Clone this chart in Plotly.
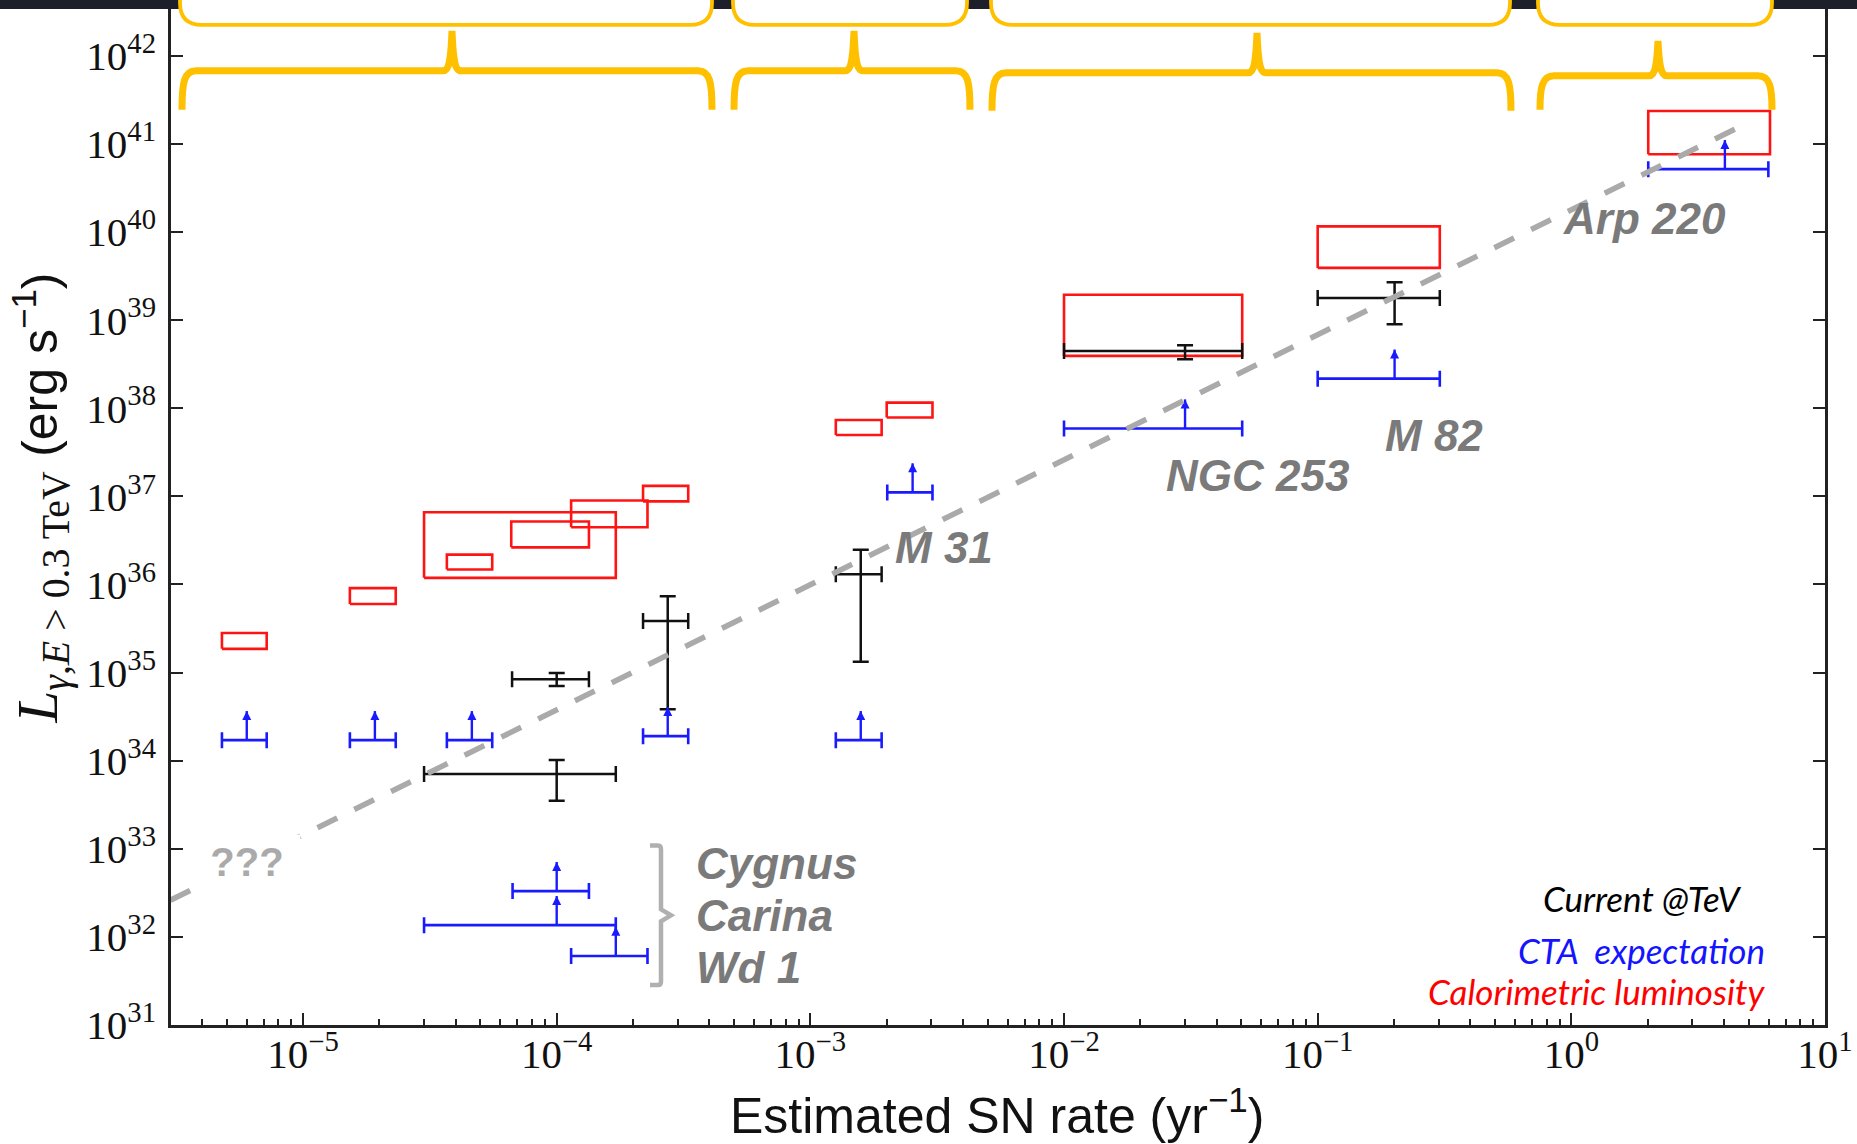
import math
import plotly.graph_objects as go

# ---------------- data ----------------
# Calorimetric luminosity boxes (red): rate range x0..x1, luminosity range y0..y1
cal_x0 = [4.79e-6, 1.53e-5, 3.0e-5, 3.69e-5, 6.62e-5, 1.14e-4, 2.19e-4, 1.26e-3, 2.0e-3, 1.0e-2, 0.1, 2.01]
cal_x1 = [7.19e-6, 2.32e-5, 1.71e-4, 5.57e-5, 1.34e-4, 2.28e-4, 3.30e-4, 1.91e-3, 3.03e-3, 5.04e-2, 0.303, 6.07]
cal_y0 = [1.86e35, 6.0e35, 1.19e36, 1.48e36, 2.64e36, 4.47e36, 8.77e36, 4.97e37, 7.87e37, 3.93e38, 3.92e39, 7.64e40]
cal_y1 = [2.81e35, 9.1e35, 6.6e36, 2.18e36, 5.19e36, 8.97e36, 1.315e37, 7.35e37, 1.16e38, 1.94e39, 1.16e40, 2.37e41]

# Current @TeV measurements (black)
cur_x = [1.0e-4, 2.74e-4, 1.0e-4, 1.58e-3, 3.0e-2, 0.201]
cur_x_lo = [6.67e-5, 2.19e-4, 3.0e-5, 1.26e-3, 1.0e-2, 0.1]
cur_x_hi = [1.34e-4, 3.30e-4, 1.71e-4, 1.91e-3, 5.04e-2, 0.303]
cur_y = [8.4e34, 3.84e35, 7.06e33, 1.31e36, 4.48e38, 1.79e39]
cur_y_lo = [7.05e34, 3.84e34, 3.52e33, 1.33e35, 3.61e38, 8.97e38]
cur_y_hi = [9.89e34, 7.35e35, 1.02e34, 2.48e36, 5.19e38, 2.70e39]

# CTA expectation (blue lower limits)
cta_x = [6.0e-6, 1.92e-5, 4.63e-5, 2.74e-4, 1.58e-3, 2.53e-3, 3.0e-2, 0.201, 4.03, 1.0e-4, 1.0e-4, 1.71e-4]
cta_x_lo = [4.79e-6, 1.53e-5, 3.69e-5, 2.19e-4, 1.26e-3, 2.01e-3, 1.0e-2, 0.1, 2.01, 6.70e-5, 3.0e-5, 1.14e-4]
cta_x_hi = [7.19e-6, 2.32e-5, 5.57e-5, 3.30e-4, 1.91e-3, 3.03e-3, 5.04e-2, 0.303, 5.98, 1.34e-4, 1.71e-4, 2.28e-4]
cta_y = [1.71e34, 1.71e34, 1.71e34, 1.90e34, 1.71e34, 1.11e37, 5.90e37, 2.17e38, 5.18e40, 3.31e32, 1.36e32, 6.08e31]

# trend line
trend_x = [3.0e-6, 4.8]
trend_y = [2.61e32, 1.66e41]

# source labels: text, rate, luminosity
src_text = ["M 31", "NGC 253", "M 82", "Arp 220", "Cygnus", "Carina", "Wd 1"]
src_x = [2.11e-3, 2.48e-2, 0.181, 0.914, 3.48e-4, 3.48e-4, 3.48e-4]
src_y = [2.63e36, 1.72e37, 4.89e37, 1.43e40, 6.81e32, 1.76e32, 4.48e31]

y_tick_exp = list(range(31, 43))
x_tick_exp = list(range(-5, 2))

# ---------------- geometry helpers ----------------
W, H = 1857, 1144
ML, MR, MT, MB = 171, 32, 0, 119
PW = W - ML - MR
PH = H - MT - MB


def px(xp):
    return (xp - ML) / PW


def py(yp):
    return (PH + MT - yp) / PH


def P(xp, yp):
    return f"{px(xp):.5f},{py(yp):.5f}"


fig = go.Figure()

# red boxes
bx, by = [], []
for x0, x1, y0, y1 in zip(cal_x0, cal_x1, cal_y0, cal_y1):
    bx += [x0, x1, x1, x0, x0, None]
    by += [y0, y0, y1, y1, y0, None]
fig.add_trace(go.Scatter(x=bx, y=by, mode="lines", line=dict(color="#ff1414", width=2.6),
                         hoverinfo="skip", showlegend=False))

# black measurements
fig.add_trace(go.Scatter(
    x=cur_x, y=cur_y, mode="markers", marker=dict(size=1, color="rgba(0,0,0,0)"),
    error_x=dict(type="data", symmetric=False,
                 array=[h - v for h, v in zip(cur_x_hi, cur_x)],
                 arrayminus=[v - l for l, v in zip(cur_x_lo, cur_x)],
                 color="#111111", thickness=2.5, width=8),
    error_y=dict(type="data", symmetric=False,
                 array=[h - v for h, v in zip(cur_y_hi, cur_y)],
                 arrayminus=[v - l for l, v in zip(cur_y_lo, cur_y)],
                 color="#111111", thickness=2.5, width=8),
    hoverinfo="skip", showlegend=False))

# blue CTA lower limits: horizontal bar + upward arrow shaft
ARROW_DEX = 0.33
cta_top = [v * 10 ** ARROW_DEX for v in cta_y]
fig.add_trace(go.Scatter(
    x=cta_x, y=cta_y, mode="markers", marker=dict(size=1, color="rgba(0,0,0,0)"),
    error_x=dict(type="data", symmetric=False,
                 array=[h - v for h, v in zip(cta_x_hi, cta_x)],
                 arrayminus=[v - l for l, v in zip(cta_x_lo, cta_x)],
                 color="#1a1aff", thickness=2.6, width=8),
    error_y=dict(type="data", symmetric=False,
                 array=[t - v for t, v in zip(cta_top, cta_y)],
                 arrayminus=[0] * len(cta_y),
                 color="#1a1aff", thickness=2.4, width=0),
    hoverinfo="skip", showlegend=False))
# arrow heads
fig.add_trace(go.Scatter(
    x=cta_x, y=cta_top, mode="markers",
    marker=dict(symbol="arrow-up", size=9, color="#1a1aff", line=dict(width=0)),
    hoverinfo="skip", showlegend=False))

# dashed trend line
fig.add_trace(go.Scatter(x=trend_x, y=trend_y, mode="lines",
                         line=dict(color="#aaaaaa", width=5.5, dash="22px,19px"),
                         hoverinfo="skip", showlegend=False))

annotations = []

# source labels
for t, xv, yv in zip(src_text, src_x, src_y):
    annotations.append(dict(
        x=math.log10(xv), y=math.log10(yv), xref="x", yref="y", text=f"<b><i>{t}</i></b>",
        showarrow=False, xanchor="left", yanchor="middle",
        font=dict(family="Liberation Sans, Arial, sans-serif", size=44, color="#7a7a7a")))

# ??? with white box that interrupts the trend line
annotations.append(dict(
    x=px(246.5), y=py(862), xref="paper", yref="paper", text="<b>???</b>",
    showarrow=False, xanchor="center", yanchor="middle", bgcolor="white",
    width=104, height=52,
    font=dict(family="Liberation Sans Narrow, Liberation Sans, sans-serif", size=40, color="#aaaaaa")))

# legend-like texts
leg_font = "Lato, Open Sans, sans-serif"
annotations += [
    dict(x=px(1642), y=py(898), xref="paper", yref="paper", text="<i>Current @TeV</i>",
         showarrow=False, xanchor="center", yanchor="middle",
         font=dict(family=leg_font, size=35, color="#000000")),
    dict(x=px(1641.5), y=py(950), xref="paper", yref="paper", text="<i>CTA\u00a0 expectation</i>",
         showarrow=False, xanchor="center", yanchor="middle",
         font=dict(family=leg_font, size=35, color="#1414ff")),
    dict(x=px(1767), y=py(991), xref="paper", yref="paper", text="<i>Calorimetric luminosity</i>",
         showarrow=False, xanchor="right", yanchor="middle",
         font=dict(family=leg_font, size=35, color="#ff0000")),
]

# axis titles
annotations.append(dict(
    x=px(997), y=py(1112), xref="paper", yref="paper",
    text="Estimated SN rate (yr<sup>\u22121</sup>)", showarrow=False,
    xanchor="center", yanchor="middle",
    font=dict(family="Liberation Sans, Arial, sans-serif", size=50, color="#111111")))
annotations.append(dict(
    x=px(41), y=py(497), xref="paper", yref="paper", textangle=-90,
    text=("<i>L</i><sub><i>\u03b3</i>,<i>E</i> &gt; 0.3 TeV</sub> "
          "<span style=\"font-family:Liberation Sans;font-size:50px\">(erg s<sup>\u22121</sup>)</span>"),
    showarrow=False, xanchor="center", yanchor="middle",
    font=dict(family="Liberation Serif, serif", size=57, color="#111111")))

# ---------------- decorative shapes ----------------
shapes = []
YEL = "#FFC000"
# dark header band
shapes.append(dict(type="rect", xref="paper", yref="paper", x0=px(-5), x1=px(W + 5), y0=py(6), y1=py(-5),
                   fillcolor="#1d202b", line=dict(width=0), layer="above"))
# upper rounded callout boxes
for xl, xr in [(180, 712), (733, 967), (991, 1510), (1538, 1772)]:
    yb, r = 22, 22
    path = (f"M{P(xl, -30)} L{P(xl, 0)} Q{P(xl, yb)} {P(xl + r, yb)} L{P(xr - r, yb)} "
            f"Q{P(xr, yb)} {P(xr, 0)} L{P(xr, -30)} Z")
    shapes.append(dict(type="path", xref="paper", yref="paper", path=path, fillcolor="white",
                       line=dict(color=YEL, width=3.8), layer="above"))
# curly braces
for xl, xr, xc, yh, yt, ye in [(182, 712, 452, 68, 28, 107), (734, 970, 854, 68, 28, 107),
                               (992, 1511, 1257, 70, 30, 108), (1540, 1772, 1658, 73, 38, 107)]:
    path = (f"M{P(xl, ye)} C{P(xl, yh + 12)} {P(xl + 2, yh)} {P(xl + 14, yh)} "
            f"L{P(xc - 9, yh)} C{P(xc - 2, yh)} {P(xc - 1, yh - 14)} {P(xc, yt)} "
            f"C{P(xc + 1, yh - 14)} {P(xc + 2, yh)} {P(xc + 9, yh)} "
            f"L{P(xr - 14, yh)} C{P(xr - 2, yh)} {P(xr, yh + 12)} {P(xr, ye)}")
    shapes.append(dict(type="path", xref="paper", yref="paper", path=path,
                       line=dict(color=YEL, width=7), layer="above"))
# gray bracket near Cygnus/Carina/Wd 1
path = (f"M{P(650, 845)} L{P(658, 845)} Q{P(661, 845)} {P(661, 849)} L{P(661, 909)} L{P(671, 915)} "
        f"L{P(661, 921)} L{P(661, 981)} Q{P(661, 985)} {P(658, 985)} L{P(650, 985)}")
shapes.append(dict(type="path", xref="paper", yref="paper", path=path,
                   line=dict(color="#b0b0b0", width=4.5), layer="above"))

minor_x = [k * 10 ** e for e in range(-6, 1) for k in range(2, 10)]

axis_common = dict(type="log", ticks="inside", ticklen=12, tickwidth=2, tickcolor="#222222",
                   showline=True, linewidth=2.5, linecolor="#222222", mirror="allticks",
                   showgrid=False, zeroline=False,
                   tickfont=dict(family="Liberation Serif, serif", size=41, color="#111111"))

fig.update_layout(
    width=W, height=H, margin=dict(l=ML, r=MR, t=MT, b=MB),
    paper_bgcolor="white", plot_bgcolor="white", showlegend=False,
    xaxis=dict(range=[-5.5205, 1.0], tickmode="array",
               tickvals=[10.0 ** e for e in x_tick_exp],
               ticktext=[f"10<sup>{str(e).replace('-', chr(0x2212))}</sup>" for e in x_tick_exp],
               ticklabelstandoff=-9,
               minor=dict(ticks="inside", ticklen=6, tickwidth=1.5, tickcolor="#222222",
                          tickmode="array", tickvals=minor_x, showgrid=False),
               **axis_common),
    yaxis=dict(range=[31, 42.6], tickmode="array",
               tickvals=[10.0 ** e for e in y_tick_exp],
               ticktext=[f"10<sup>{e}</sup>" for e in y_tick_exp],
               ticklabelstandoff=4,
               **axis_common),
    annotations=annotations, shapes=shapes,
)

fig.write_html("out.html")
